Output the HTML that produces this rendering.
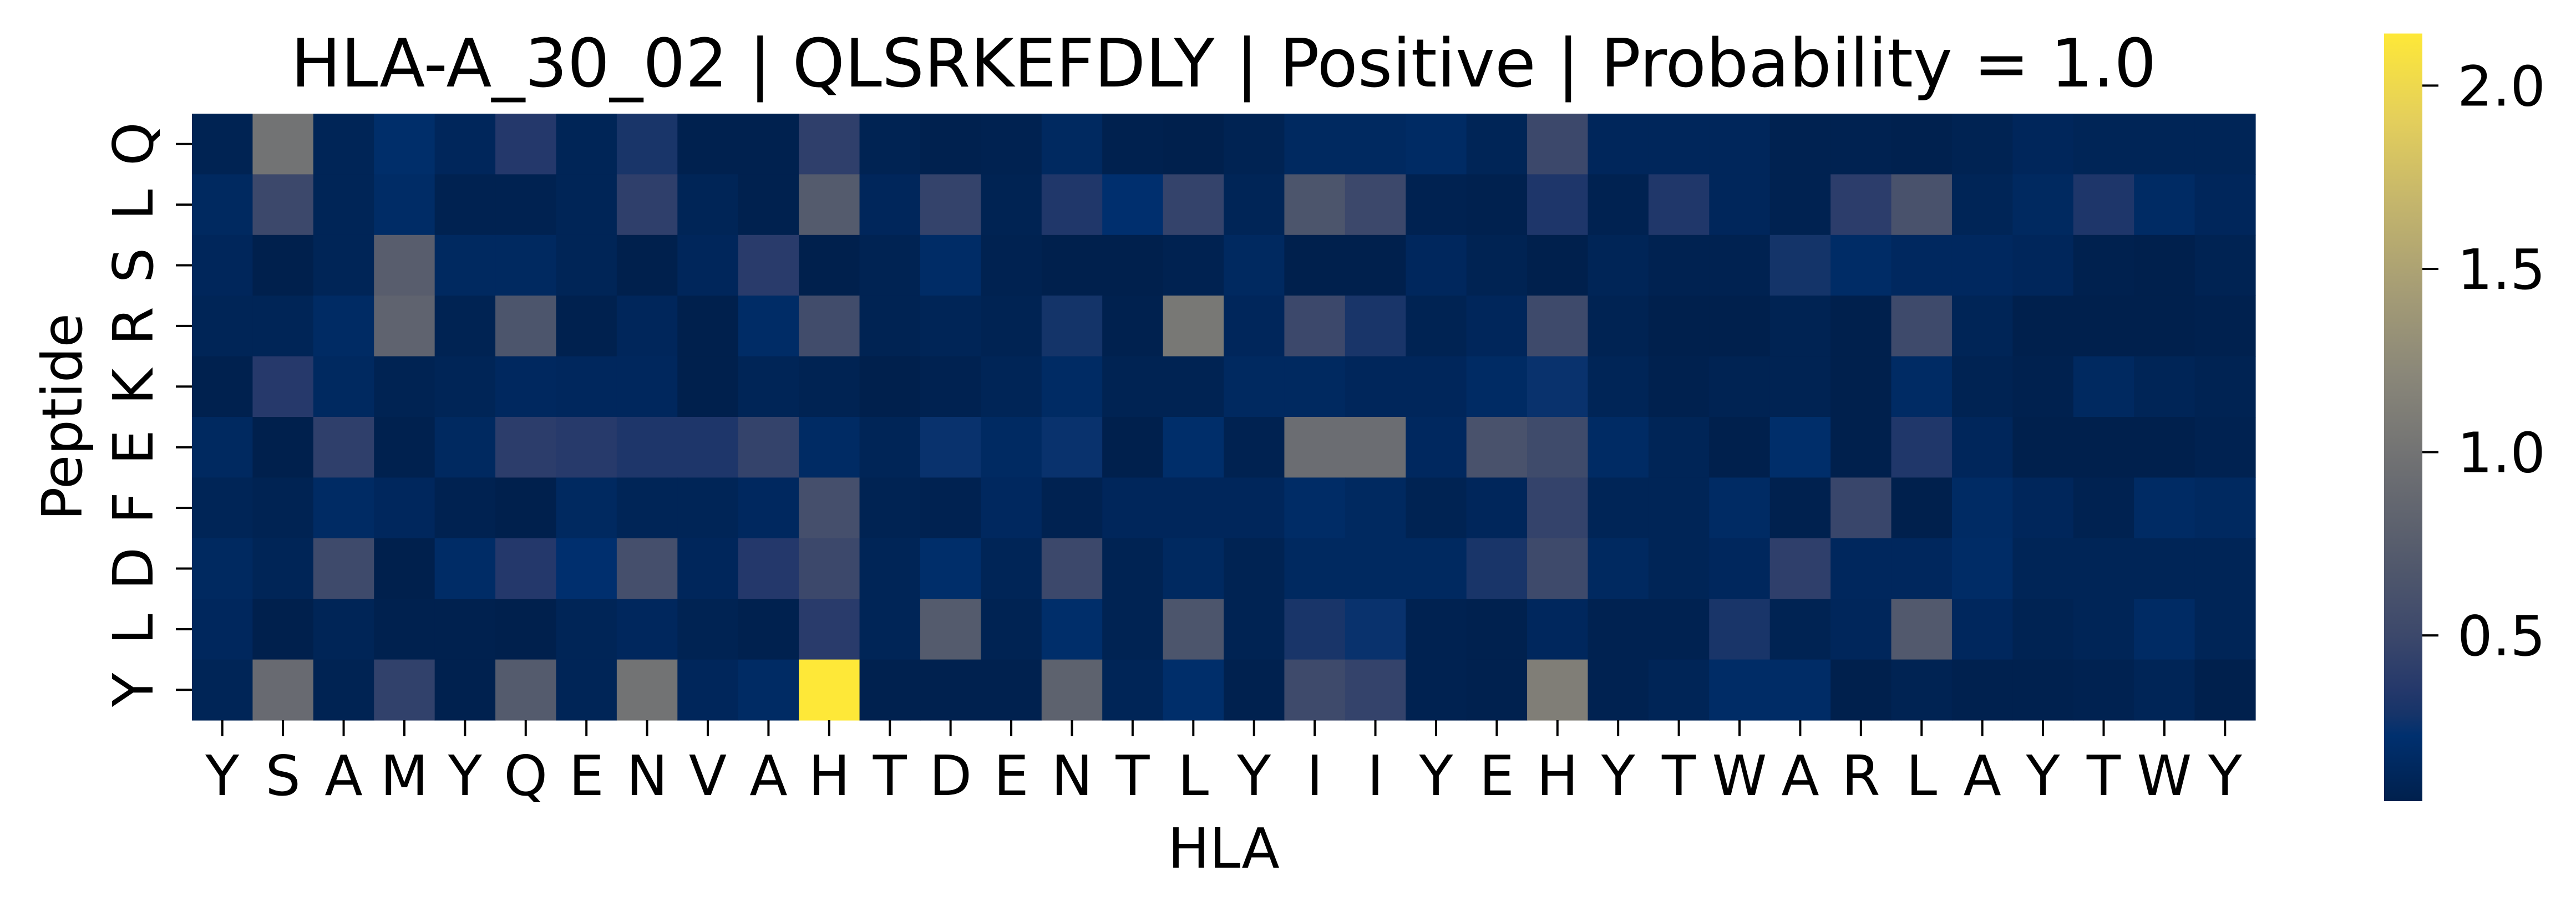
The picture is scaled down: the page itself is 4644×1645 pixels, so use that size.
<!DOCTYPE html>
<html><head><meta charset="utf-8"><style>
html,body{margin:0;padding:0;background:#fff;}
svg{display:block;font-family:"DejaVu Sans","Liberation Sans",sans-serif;}
</style></head><body>
<svg id="chart" width="4644" height="1645" viewBox="0 0 4644 1645" xmlns="http://www.w3.org/2000/svg">
<rect width="4644" height="1645" fill="#fff"/>
<text x="2206" y="156" font-size="120" text-anchor="middle">HLA-A_30_02 | QLSRKEFDLY | Positive | Probability = 1.0</text>
<g id="cells"></g>
<g id="xticks"></g>
<g id="yticks"></g>
<text x="2206" y="1565" font-size="100" text-anchor="middle">HLA</text>
<text transform="translate(147,752) rotate(-90)" font-size="100" text-anchor="middle">Peptide</text>
<defs><linearGradient id="cbgrad" x1="0" y1="1" x2="0" y2="0"></linearGradient></defs>
<rect x="4298" y="60.5" width="69" height="1384.5" fill="url(#cbgrad)"/>
<g id="cbticks"></g>
</svg>
<script>
const xCategories = ["Y","S","A","M","Y","Q","E","N","V","A","H","T","D","E","N","T","L","Y","I","I","Y","E","H","Y","T","W","A","R","L","A","Y","T","W","Y"];
const yCategories = ["Q","L","S","R","K","E","F","D","L","Y"];
const rowQ = [0.08,1.0,0.1,0.2,0.12,0.35,0.1,0.3,0.06,0.06,0.42,0.08,0.06,0.07,0.15,0.06,0.04,0.08,0.15,0.15,0.17,0.1,0.5,0.12,0.12,0.12,0.07,0.07,0.06,0.08,0.12,0.1,0.1,0.1];
const rowL1 = [0.15,0.5,0.1,0.18,0.07,0.07,0.1,0.42,0.1,0.06,0.72,0.12,0.45,0.08,0.33,0.22,0.45,0.1,0.65,0.5,0.07,0.06,0.32,0.07,0.33,0.12,0.07,0.4,0.62,0.1,0.15,0.32,0.17,0.12];
const rowS = [0.12,0.03,0.1,0.75,0.15,0.15,0.1,0.04,0.12,0.38,0.03,0.08,0.18,0.07,0.04,0.05,0.07,0.15,0.04,0.03,0.13,0.08,0.02,0.1,0.07,0.07,0.28,0.18,0.14,0.14,0.12,0.06,0.05,0.08];
const rowR = [0.1,0.1,0.17,0.82,0.08,0.65,0.06,0.12,0.03,0.18,0.55,0.08,0.1,0.08,0.28,0.06,1.05,0.12,0.5,0.3,0.08,0.12,0.52,0.08,0.05,0.04,0.08,0.05,0.52,0.1,0.04,0.04,0.04,0.06];
const rowK = [0.06,0.36,0.15,0.08,0.1,0.14,0.13,0.13,0.05,0.1,0.08,0.05,0.07,0.1,0.17,0.08,0.08,0.15,0.15,0.12,0.12,0.17,0.25,0.1,0.06,0.08,0.08,0.05,0.17,0.08,0.06,0.15,0.1,0.08];
const rowE = [0.15,0.04,0.42,0.06,0.15,0.4,0.37,0.32,0.32,0.45,0.17,0.1,0.25,0.16,0.25,0.04,0.2,0.07,0.93,0.93,0.14,0.62,0.53,0.17,0.1,0.04,0.2,0.05,0.33,0.12,0.04,0.03,0.02,0.07];
const rowF = [0.1,0.08,0.17,0.13,0.07,0.03,0.15,0.1,0.1,0.14,0.58,0.08,0.07,0.14,0.07,0.12,0.12,0.12,0.18,0.15,0.08,0.12,0.45,0.1,0.1,0.17,0.06,0.48,0.04,0.17,0.12,0.07,0.17,0.15];
const rowD = [0.15,0.1,0.52,0.03,0.18,0.35,0.22,0.58,0.12,0.35,0.5,0.1,0.2,0.1,0.5,0.08,0.15,0.08,0.15,0.15,0.15,0.3,0.52,0.15,0.1,0.13,0.42,0.13,0.13,0.18,0.1,0.1,0.1,0.1];
const rowL2 = [0.13,0.04,0.1,0.06,0.06,0.04,0.1,0.13,0.08,0.06,0.38,0.1,0.72,0.08,0.2,0.08,0.65,0.08,0.3,0.25,0.07,0.06,0.13,0.07,0.07,0.3,0.08,0.12,0.7,0.13,0.08,0.1,0.17,0.1];
const rowY = [0.1,0.9,0.08,0.43,0.06,0.72,0.1,1.0,0.12,0.17,2.142,0.06,0.06,0.06,0.8,0.1,0.2,0.06,0.52,0.45,0.07,0.06,1.12,0.07,0.1,0.18,0.18,0.04,0.08,0.06,0.06,0.07,0.1,0.04];
const cbTickValues = [0.5,1.0,1.5,2.0];
const cbTickLabels = ["0.5","1.0","1.5","2.0"];

const values = [rowQ,rowL1,rowS,rowR,rowK,rowE,rowF,rowD,rowL2,rowY];
const NS = "http://www.w3.org/2000/svg";
const L=346, T=205, R=4066, B=1299;
const cw=(R-L)/xCategories.length, ch=(B-T)/yCategories.length;
const vmin=0.048, vmax=2.142;
const stops=[[0,"#00204d"],[0.085,"#00306f"],[0.113,"#163469"],[0.144,"#24386b"],[0.216,"#3c486b"],[0.333,"#575d6d"],[0.444,"#707173"],[0.556,"#8a8779"],[0.667,"#a69d75"],[0.778,"#c4b56c"],[0.889,"#e4cf5b"],[1,"#fee838"]];
function hex(h){return [1,3,5].map(i=>parseInt(h.substr(i,2),16));}
function cmap(v){
  let t=Math.max(0,Math.min(1,(v-vmin)/(vmax-vmin)));
  for(let i=1;i<stops.length;i++){ if(t<=stops[i][0]){
    const a=hex(stops[i-1][1]),b=hex(stops[i][1]),f=(t-stops[i-1][0])/(stops[i][0]-stops[i-1][0]);
    return "rgb("+a.map((x,k)=>Math.round(x+(b[k]-x)*f)).join(",")+")";}}
  return stops[stops.length-1][1];
}
function xPos(i){return L+i*cw;}
function yPos(j){return T+j*ch;}
function cbY(v){return 1445-(v-vmin)/(vmax-vmin)*(1445-60.5);}
const cells=document.getElementById("cells");
values.forEach((row,j)=>row.forEach((v,i)=>{
  const r=document.createElementNS(NS,"rect");
  r.setAttribute("x",xPos(i));r.setAttribute("y",yPos(j));
  r.setAttribute("width",cw+0.6);r.setAttribute("height",ch+0.6);
  r.setAttribute("fill",cmap(v));
  
  
  cells.appendChild(r);
}));
const xg=document.getElementById("xticks");
xCategories.forEach((c,i)=>{
  const cx=xPos(i)+cw/2;
  const ln=document.createElementNS(NS,"line");
  ln.setAttribute("x1",cx);ln.setAttribute("x2",cx);ln.setAttribute("y1",B);ln.setAttribute("y2",B+29);
  ln.setAttribute("stroke","#000");ln.setAttribute("stroke-width","4");
  
  
  xg.appendChild(ln);
  const t=document.createElementNS(NS,"text");
  t.setAttribute("x",cx);t.setAttribute("y",1434);t.setAttribute("font-size","100");t.setAttribute("text-anchor","middle");
  t.textContent=c;
  
  
  xg.appendChild(t);
});
const yg=document.getElementById("yticks");
yCategories.forEach((c,j)=>{
  const cy=yPos(j)+ch/2;
  const ln=document.createElementNS(NS,"line");
  ln.setAttribute("x1",L-29);ln.setAttribute("x2",L);ln.setAttribute("y1",cy);ln.setAttribute("y2",cy);
  ln.setAttribute("stroke","#000");ln.setAttribute("stroke-width","4");
  
  
  yg.appendChild(ln);
  const t=document.createElementNS(NS,"text");
  t.setAttribute("transform","translate(275,"+cy+") rotate(-90)");
  t.setAttribute("font-size","100");t.setAttribute("text-anchor","middle");
  t.textContent=c;
  
  
  yg.appendChild(t);
});
const grad=document.getElementById("cbgrad");
stops.forEach(s=>{const st=document.createElementNS(NS,"stop");st.setAttribute("offset",s[0]);st.setAttribute("stop-color",s[1]);grad.appendChild(st);});
const cg=document.getElementById("cbticks");
cbTickValues.forEach((v,k)=>{
  const y=cbY(v);
  const ln=document.createElementNS(NS,"line");
  ln.setAttribute("x1",4367);ln.setAttribute("x2",4396);ln.setAttribute("y1",y);ln.setAttribute("y2",y);
  ln.setAttribute("stroke","#000");ln.setAttribute("stroke-width","4");
  
  
  cg.appendChild(ln);
  const t=document.createElementNS(NS,"text");
  t.setAttribute("x",4430);t.setAttribute("y",y+36);t.setAttribute("font-size","100");
  t.textContent=cbTickLabels[k];
  
  
  cg.appendChild(t);
});
</script>
</body></html>
